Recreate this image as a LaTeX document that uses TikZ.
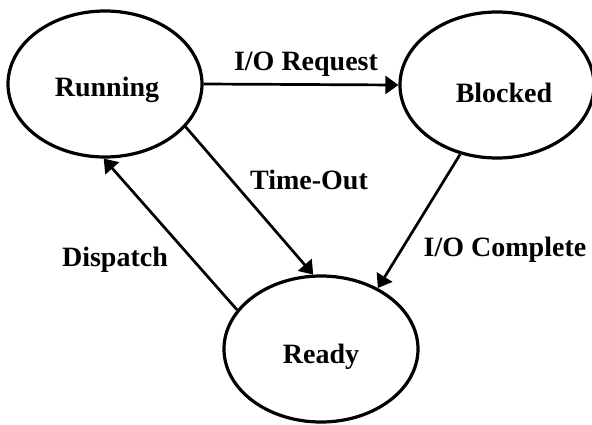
\documentclass[tikz,border=0pt]{standalone}
\usepackage{fontspec}
\setmainfont{Liberation Serif}
\usetikzlibrary{shapes.geometric,arrows.meta}
\begin{document}
\begin{tikzpicture}[x=1pt,y=-1pt,
  state/.style={draw, ellipse, line width=3.2pt, minimum width=194pt, minimum height=146pt, inner sep=0pt},
  txt/.style={font=\fontsize{28}{32}\selectfont\bfseries, inner sep=0pt, anchor=base},
  conn/.style={line width=2.7pt, -{Triangle[length=13pt,width=18pt]}}]
\useasboundingbox (0,0) rectangle (592,424);
\node[state] (run) at (105,84) {};
\node[state] (blk) at (497,85) {};
\node[state] (rdy) at (321,349) {};
\node[txt] (trun) at (107,96) {Running};
\node[txt] (tblk) at (504,102) {Blocked};
\node[txt] (trdy) at (321,363) {Ready};
\draw[conn] (run.east) -- (blk.west);
\draw[conn] (run.-28) -- (rdy.96);
\draw[conn] (rdy.155) -- (run.-91);
\draw[conn] (blk.-118) -- (rdy.47);
\node[txt] (lreq) at (306,70) {I/O Request};
\node[txt] (lto) at (309,189) {Time-Out};
\node[txt] (ldis) at (115,266) {Dispatch};
\node[txt] (lcom) at (505,256) {I/O Complete};
\end{tikzpicture}
\end{document}
